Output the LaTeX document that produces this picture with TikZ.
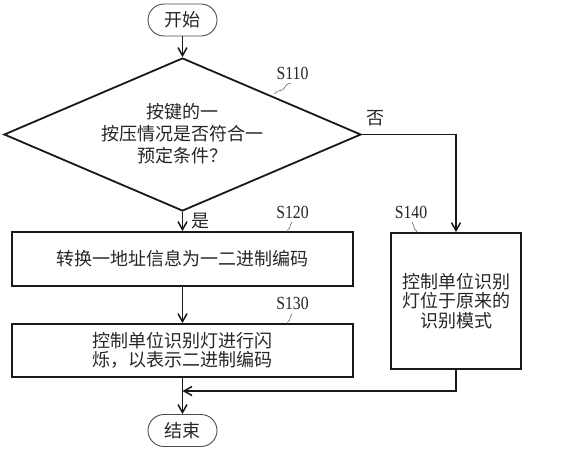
\documentclass[tikz,border=0pt]{standalone}
\usepackage{fontspec}
\setmainfont{Liberation Serif}
\newfontfamily\cjk{Noto Sans CJK SC}
\usetikzlibrary{shapes.geometric,shapes.misc,arrows.meta}
\begin{document}
\begin{tikzpicture}[x=1pt,y=-1pt,
  line/.style={line width=1.8pt,black!90},
  arr/.style={line,-{Straight Barb[length=8pt,width=9pt,line width=1.5pt]}},
  box/.style={draw,line width=1.8pt,black!90,inner sep=0pt},
  term/.style={rounded rectangle,draw,line width=0.9pt,black!70,minimum width=69pt,minimum height=32pt,inner sep=0pt},
  txt/.style={text=black!85,font=\cjk\fontsize{18}{21}\selectfont,align=center,inner sep=0pt},
  slabel/.style={text=black!85,font=\fontsize{18.5}{18.5}\selectfont,xscale=0.85,inner sep=0pt},
  squig/.style={line width=0.5pt,black!70}]
\useasboundingbox (0,0) rectangle (577,450);
% start
\node[term] (start) at (182.5,20) {};
\node[txt] (starttxt) at (start.center) {开始};
% decision
\node[diamond,draw,line width=1.8pt,black!90,minimum width=357pt,minimum height=153pt,inner sep=0pt] (dec) at (182.5,134.5) {};
\node[txt,font=\cjk\fontsize{18}{22}\selectfont] (dectxt) at (182.5,134) {按键的一\\按压情况是否符合一\\预定条件？};
% S120
\node[box,minimum width=341pt,minimum height=54pt] (s120) at (182.5,259) {};
\node[txt] (s120txt) at (s120.center) {转换一地址信息为一二进制编码};
% S130
\node[box,minimum width=341pt,minimum height=53pt] (s130) at (182.5,350.5) {};
\node[txt,font=\cjk\fontsize{18}{19.5}\selectfont] (s130txt) at (s130.center) {控制单位识别灯进行闪\\烁，以表示二进制编码};
% S140
\node[box,minimum width=130pt,minimum height=136pt] (s140) at (456,301) {};
\node[txt,font=\cjk\fontsize{18}{19.5}\selectfont] (s140txt) at (s140.center) {控制单位识别\\灯位于原来的\\识别模式};
% end
\node[term] (end) at (182.5,430.5) {};
\node[txt] (endtxt) at (end.center) {结束};
% labels
\node[slabel] (l110) at (292.5,73) {S110};
\node[slabel] (l120) at (292.5,212) {S120};
\node[slabel] (l130) at (292.5,303) {S130};
\node[slabel] (l140) at (411,212) {S140};
\node[txt] (no) at (375,118) {否};
\node[txt] (yes) at (200,221) {是};
% connectors
\draw[arr] (start) -- (dec.north);
\draw[arr] (dec.south) -- (s120.north);
\draw[arr] (dec.east) -| (s140.north);
\draw[arr] (s120.south) -- (s130.north);
\draw[arr] (s130.south) -- (end.north);
\coordinate (merge) at (182.5,391);
\draw[arr] (s140.south) |- (merge);
% leader squiggles
\draw[squig] (274.5,94) .. controls (279,88) and (282,93) .. (285,87) .. controls (287,83) and (289,84) .. (291,83);
\draw[squig] (287.5,232) .. controls (287,228) and (291,229) .. (290,226) .. controls (289.5,224) and (292,224) .. (292,222);
\draw[squig] (287.5,324) .. controls (287,320) and (291,321) .. (290,318) .. controls (289.5,316) and (292,316) .. (292,314);
\draw[squig] (417,233) .. controls (417,229) and (413,230) .. (414,227) .. controls (414.5,225) and (412,225) .. (412,222);
\end{tikzpicture}
\end{document}
